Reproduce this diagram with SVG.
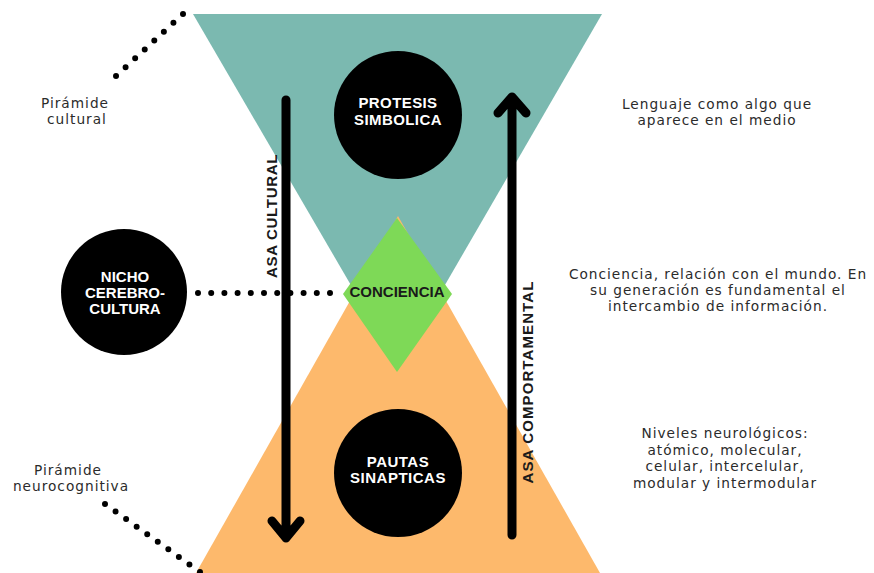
<svg xmlns="http://www.w3.org/2000/svg" width="874" height="573" viewBox="0 0 874 573">
<style>
.lbl{font-family:"DejaVu Sans","Liberation Sans",sans-serif;font-size:13.7px;fill:#2b2b2b;text-anchor:middle;letter-spacing:1px}
.bold{font-family:"Liberation Sans",Arial,sans-serif;font-weight:bold;font-size:15px;text-anchor:middle}
.w{fill:#fff}
.k{fill:#1a1a1a}
.dots{fill:none;stroke:#000;stroke-width:6;stroke-linecap:round}
.arr{fill:none;stroke:#000;stroke-width:9;stroke-linecap:round;stroke-linejoin:round}
</style>
<rect width="874" height="573" fill="#fff"/>
<g id="piramide-cultural-shape"><polygon points="193,14 602,14 398,366" fill="#7bb9b0"/></g>
<g id="piramide-neuro-shape"><polygon points="398,216 600,573 196,573" fill="#fdb96c"/></g>
<g id="conciencia"><polygon points="397,218 452,294 397,372 343,294" fill="#7ed957"/><text class="bold k" x="397" y="297">CONCIENCIA</text></g>
<g id="protesis"><circle cx="398" cy="115" r="64" fill="#000"/><text class="bold w" x="398" y="108" letter-spacing="0.4">PROTESIS</text><text class="bold w" x="398" y="125" letter-spacing="0.4">SIMBOLICA</text></g>
<g id="pautas"><circle cx="398" cy="473" r="64" fill="#000"/><text class="bold w" x="398" y="467" letter-spacing="0.5">PAUTAS</text><text class="bold w" x="398" y="483" letter-spacing="0.5">SINAPTICAS</text></g>
<g id="nicho"><circle cx="124" cy="292" r="63" fill="#000"/><text class="bold w" x="125" y="282">NICHO</text><text class="bold w" x="125" y="298">CEREBRO-</text><text class="bold w" x="125" y="314">CULTURA</text></g>
<g id="connectors">
<path class="dots" d="M183,14 L115.6,76.4" stroke-dasharray="0 13.04"/>
<path class="dots" d="M198,293 L330.5,293" stroke-dasharray="0 13.2"/>
<path class="dots" d="M105,504 L200.4,572.3" stroke-dasharray="0 12.98"/>
<path class="arr" d="M286,100 L286,538 M272,521 L286,538 L300,521"/>
<path class="arr" d="M512,535 L512,97 M498,113 L512,97 L526,113"/>
</g>
<g id="asa-cultural"><text class="bold k" transform="translate(277,216) rotate(-90)" letter-spacing="0.7">ASA CULTURAL</text></g>
<g id="asa-comportamental"><text class="bold k" transform="translate(533,382) rotate(-90)" letter-spacing="1.1">ASA COMPORTAMENTAL</text></g>
<g id="label-cultural"><text class="lbl" x="75" y="108">Pirámide</text><text class="lbl" x="77" y="124">cultural</text></g>
<g id="label-neuro"><text class="lbl" x="68" y="475">Pirámide</text><text class="lbl" x="71" y="491">neurocognitiva</text></g>
<g id="label-lenguaje"><text class="lbl" x="717" y="109">Lenguaje como algo que</text><text class="lbl" x="717" y="125">aparece en el medio</text></g>
<g id="label-conciencia"><text class="lbl" x="718" y="279">Conciencia, relación con el mundo. En</text><text class="lbl" x="718" y="295">su generación es fundamental el</text><text class="lbl" x="718" y="311">intercambio de información.</text></g>
<g id="label-niveles"><text class="lbl" x="725" y="438">Niveles neurológicos:</text><text class="lbl" x="725" y="455">atómico, molecular,</text><text class="lbl" x="725" y="471">celular, intercelular,</text><text class="lbl" x="725" y="488">modular y intermodular</text></g>
</svg>
